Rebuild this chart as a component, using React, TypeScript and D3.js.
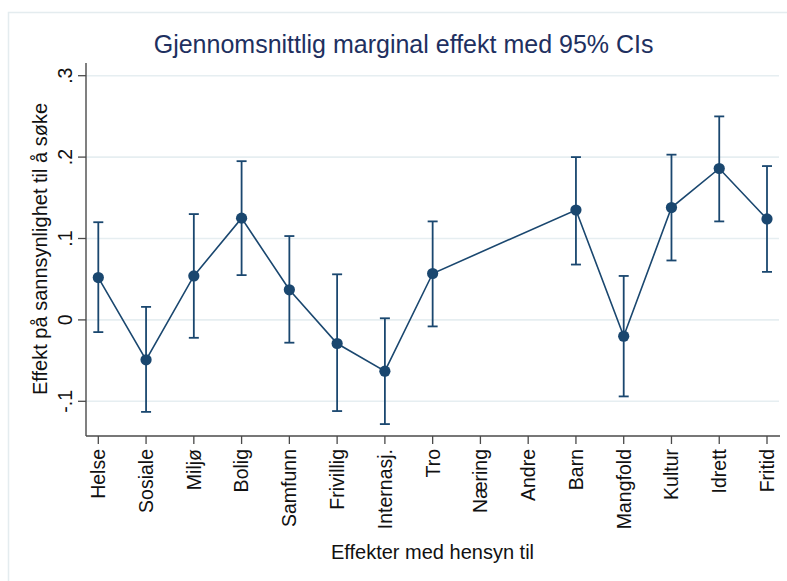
import React from "react";
import * as d3 from "d3";

const categories = ["Helse", "Sosiale", "Miljø", "Bolig", "Samfunn", "Frivillig", "Internasj.", "Tro", "Næring", "Andre", "Barn", "Mangfold", "Kultur", "Idrett", "Fritid"];
const estimates: (number | null)[] = [0.052, -0.049, 0.054, 0.125, 0.037, -0.029, -0.063, 0.057, null, null, 0.135, -0.020, 0.138, 0.186, 0.124];
const lowerCI: (number | null)[] = [-0.015, -0.113, -0.022, 0.055, -0.028, -0.112, -0.128, -0.008, null, null, 0.068, -0.094, 0.073, 0.121, 0.059];
const upperCI: (number | null)[] = [0.120, 0.016, 0.130, 0.195, 0.103, 0.056, 0.002, 0.121, null, null, 0.200, 0.054, 0.203, 0.250, 0.189];
const yTicks = [-0.1, 0, 0.1, 0.2, 0.3];
const yTickLabels = ["-.1", "0", ".1", ".2", ".3"];

const title = "Gjennomsnittlig marginal effekt med 95% CIs";
const xTitle = "Effekter med hensyn til";
const yTitle = "Effekt på sannsynlighet til å søke";

const W = 787;
const H = 581;
const FONT = "'Liberation Sans', Arial, Helvetica, sans-serif";
const NAVY = "#1a476f";
const GRID = "#e6eef1";
const AXIS = "#4a4a4a";

export default function App() {
  const plotLeft = 86;
  const plotRight = 780;
  const plotTop = 63;
  const plotBottom = 436;

  const x = d3.scalePoint<string>().domain(categories).range([98.3, 767]);
  const y = d3.scaleLinear().domain([-0.1, 0.3]).range([401.3, 75.7]);

  const pts = categories
    .map((c, i) => ({ c, v: estimates[i], lo: lowerCI[i], hi: upperCI[i] }))
    .filter((d) => d.v !== null) as { c: string; v: number; lo: number; hi: number }[];

  const line = d3
    .line<{ c: string; v: number }>()
    .x((d) => x(d.c)!)
    .y((d) => y(d.v));

  const capHalf = 5;

  return (
    <svg width={W} height={H} style={{ position: "absolute", left: 0, top: 0, background: "#fff" }} fontFamily={FONT}>
      <rect x={0} y={0} width={W} height={H} fill="#fff" />
      {/* outer graph region frame */}
      <rect x={8.5} y={12.5} width={W} height={H} fill="none" stroke="#e4ecef" strokeWidth={1.5} />

      {/* title */}
      <text x={403.6} y={53} textAnchor="middle" fontSize={25} fill="#1e3060">
        {title}
      </text>

      {/* gridlines */}
      {yTicks.map((t) => (
        <line key={"g" + t} x1={plotLeft} x2={779} y1={y(t)} y2={y(t)} stroke={GRID} strokeWidth={1.6} />
      ))}

      {/* axes */}
      <line x1={plotLeft} x2={plotLeft} y1={plotTop} y2={plotBottom} stroke={AXIS} strokeWidth={1.4} />
      <line x1={plotLeft} x2={plotRight} y1={plotBottom} y2={plotBottom} stroke={AXIS} strokeWidth={1.4} />

      {/* y ticks */}
      {yTicks.map((t, i) => (
        <g key={"yt" + t}>
          <line x1={plotLeft - 8} x2={plotLeft} y1={y(t)} y2={y(t)} stroke={AXIS} strokeWidth={1.3} />
          <text
            transform={`translate(${72},${y(t)}) rotate(-90)`}
            textAnchor="middle"
            fontSize={19.5}
            fill="#111"
          >
            {yTickLabels[i]}
          </text>
        </g>
      ))}

      {/* x ticks */}
      {categories.map((c) => (
        <g key={"xt" + c}>
          <line x1={x(c)} x2={x(c)} y1={plotBottom} y2={plotBottom + 8} stroke={AXIS} strokeWidth={1.3} />
          <text
            transform={`translate(${x(c)! + 6.9},${449}) rotate(-90)`}
            textAnchor="end"
            fontSize={19.5}
            fill="#111"
          >
            {c}
          </text>
        </g>
      ))}

      {/* axis titles */}
      <text x={432.5} y={559} textAnchor="middle" fontSize={20} fill="#111">
        {xTitle}
      </text>
      <text transform={`translate(${47},${249}) rotate(-90)`} textAnchor="middle" fontSize={20} fill="#111">
        {yTitle}
      </text>

      {/* CI bars */}
      {pts.map((d) => (
        <g key={"ci" + d.c} stroke={NAVY} strokeWidth={1.8}>
          <line x1={x(d.c)} x2={x(d.c)} y1={y(d.lo)} y2={y(d.hi)} />
          <line x1={x(d.c)! - capHalf} x2={x(d.c)! + capHalf} y1={y(d.lo)} y2={y(d.lo)} />
          <line x1={x(d.c)! - capHalf} x2={x(d.c)! + capHalf} y1={y(d.hi)} y2={y(d.hi)} />
        </g>
      ))}

      {/* connecting line */}
      <path d={line(pts) || ""} fill="none" stroke={NAVY} strokeWidth={1.6} />

      {/* markers */}
      {pts.map((d) => (
        <circle key={"m" + d.c} cx={x(d.c)} cy={y(d.v)} r={5.6} fill={NAVY} />
      ))}
    </svg>
  );
}
